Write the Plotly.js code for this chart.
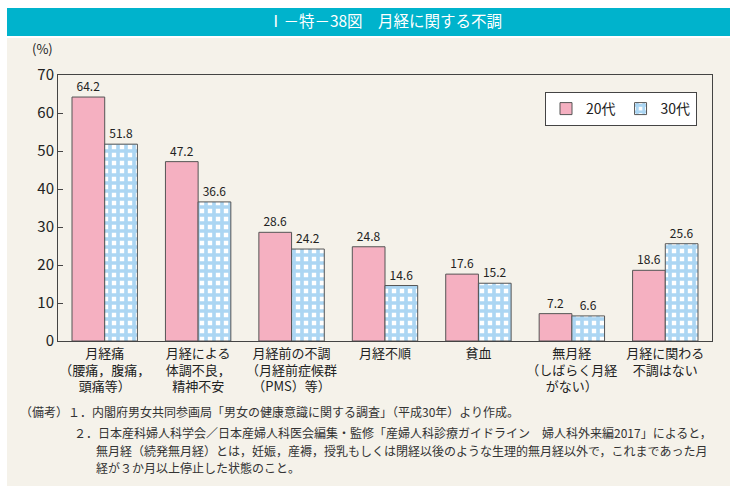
<!DOCTYPE html>
<html>
<head>
<meta charset="utf-8">
<script src="https://cdn.plot.ly/plotly-3.0.1.min.js"></script>
<style>
html,body{margin:0;padding:0;background:#ffffff;}
#chart{width:737px;height:489px;}
</style>
</head>
<body>
<div id="chart"></div>
<script>
// ---- data ----
const categories = [
  "月経痛<br>（腰痛，腹痛，<br>頭痛等）",
  "月経による<br>体調不良，<br>精神不安",
  "月経前の不調<br>（月経前症候群<br>（PMS）等）",
  "月経不順",
  "貧血",
  "無月経<br>（しばらく月経<br>がない）",
  "月経に関わる<br>不調はない"
];
const series20 = [64.2, 47.2, 28.6, 24.8, 17.6, 7.2, 18.6];
const series30 = [51.8, 36.6, 24.2, 14.6, 15.2, 6.6, 25.6];
const seriesNames = ["20代", "30代"];
const yTicks = [0, 10, 20, 30, 40, 50, 60, 70];
const chartTitle = "Ⅰ－特－38図　月経に関する不調";
const notes = [
  "（備考）１．内閣府男女共同参画局「男女の健康意識に関する調査」（平成30年）より作成。",
  "２．日本産科婦人科学会／日本産婦人科医会編集・監修「産婦人科診療ガイドライン　婦人科外来編2017」によると，",
  "無月経（続発無月経）とは，妊娠，産褥，授乳もしくは閉経以後のような生理的無月経以外で，これまであった月",
  "経が３か月以上停止した状態のこと。"
];

// ---- layout helpers (pixel -> paper) ----
const W = 737, H = 489;
const M = {l: 58, r: 25, t: 75, b: 148};
const PW = W - M.l - M.r, PH = H - M.t - M.b;
const px = x => (x - M.l) / PW;
const py = y => 1 - (y - M.t) / PH;

const FONT = '"Noto Sans CJK JP", "Noto Sans", sans-serif';

const trace20 = {
  type: 'bar', name: seriesNames[0], x: categories, y: series20,
  marker: {color: '#f5b0c1', line: {color: '#555555', width: 1}},
  text: series20.map(v => v.toFixed(1)), textposition: 'outside',
  textfont: {family: FONT, size: 12, color: '#222222'}, cliponaxis: false,
  hoverinfo: 'none'
};
const trace30 = {
  type: 'bar', name: seriesNames[1], x: categories, y: series30,
  marker: {color: '#ffffff', line: {color: '#555555', width: 1},
    pattern: {shape: '+', fgcolor: '#acd6f3', bgcolor: '#ffffff', size: 8, solidity: 0.7}},
  text: series30.map(v => v.toFixed(1)), textposition: 'outside',
  textfont: {family: FONT, size: 12, color: '#222222'}, cliponaxis: false,
  hoverinfo: 'none'
};

const NOTE_FONT = {family: FONT, size: 12, color: '#333'};
const annotations = [
  {xref: 'paper', yref: 'paper', x: px(42), y: py(48), text: '(%)', showarrow: false,
   xanchor: 'center', yanchor: 'middle', font: {family: FONT, size: 13, color: '#222'}},
  {xref: 'paper', yref: 'paper', x: px(18), y: py(411), text: notes[0], showarrow: false,
   xanchor: 'left', yanchor: 'middle', font: NOTE_FONT},
  {xref: 'paper', yref: 'paper', x: px(72), y: py(432), text: notes[1], showarrow: false,
   xanchor: 'left', yanchor: 'middle', font: NOTE_FONT},
  {xref: 'paper', yref: 'paper', x: px(94), y: py(450), text: notes[2], showarrow: false,
   xanchor: 'left', yanchor: 'middle', font: NOTE_FONT},
  {xref: 'paper', yref: 'paper', x: px(94), y: py(467), text: notes[3], showarrow: false,
   xanchor: 'left', yanchor: 'middle', font: NOTE_FONT}
];

const shapes = [
  {type: 'rect', xref: 'paper', yref: 'paper', layer: 'below',
   x0: px(7), x1: px(730), y0: py(38), y1: py(486), fillcolor: '#f5f2ea', line: {width: 0}},
  {type: 'rect', xref: 'paper', yref: 'paper', layer: 'below',
   x0: px(7), x1: px(730), y0: py(8), y1: py(36), fillcolor: '#00b3cc', line: {width: 0}}
];

const layout = {
  width: W, height: H,
  margin: M,
  paper_bgcolor: '#ffffff', plot_bgcolor: '#ffffff',
  font: {family: FONT, color: '#222222'},
  title: {text: chartTitle, x: 0.5, xref: 'paper', y: 1 - 22 / H, yref: 'container',
          xanchor: 'center', yanchor: 'middle',
          font: {family: FONT, size: 15.5, color: '#ffffff'}},
  barmode: 'group', bargap: 0.3, bargroupgap: 0,
  showlegend: true,
  legend: {orientation: 'h', x: px(697), xanchor: 'right', y: py(92), yanchor: 'top',
           bgcolor: '#ffffff', bordercolor: '#444444', borderwidth: 1,
           font: {family: FONT, size: 14, color: '#222'}, itemwidth: 30},
  xaxis: {type: 'category', showline: true, linecolor: '#444444', linewidth: 1, mirror: true,
          ticks: '', tickfont: {family: FONT, size: 13, color: '#222'}, fixedrange: true},
  yaxis: {range: [0, 70], tickvals: yTicks, ticktext: yTicks.map(String),
          showgrid: false, zeroline: false, showline: true, linecolor: '#444444', linewidth: 1,
          mirror: true, ticks: 'inside', ticklen: 5, tickcolor: '#444444',
          tickfont: {family: FONT, size: 15, color: '#222'}, fixedrange: true},
  annotations: annotations,
  shapes: shapes
};

Plotly.newPlot('chart', [trace20, trace30], layout, {displayModeBar: false, staticPlot: true});
</script>
</body>
</html>
